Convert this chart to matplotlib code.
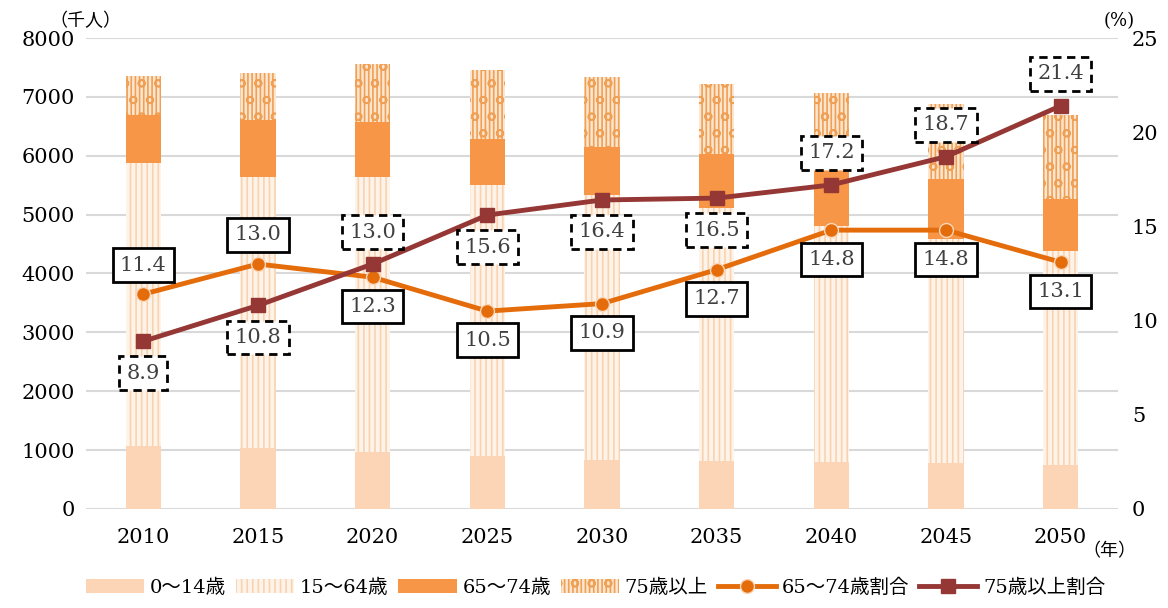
import matplotlib.pyplot as plt
import numpy as np

plt.rcParams['font.family'] = ['DejaVu Serif', 'Noto Sans CJK JP']
plt.rcParams['hatch.linewidth'] = 1.2

years = ['2010', '2015', '2020', '2025', '2030', '2035', '2040', '2045', '2050']
age0_14 = [1070, 1030, 970, 900, 830, 810, 800, 780, 750]
age15_64 = [4800, 4610, 4670, 4610, 4510, 4300, 4000, 3800, 3630]
age65_74 = [820, 960, 930, 780, 800, 920, 1045, 1020, 880]
age75 = [660, 800, 980, 1160, 1200, 1190, 1215, 1285, 1430]
ratio65_74 = [11.4, 13.0, 12.3, 10.5, 10.9, 12.7, 14.8, 14.8, 13.1]
ratio75 = [8.9, 10.8, 13.0, 15.6, 16.4, 16.5, 17.2, 18.7, 21.4]

# label above (+1) or below (-1) the point
pos65 = [1, 1, -1, -1, -1, -1, -1, -1, -1]
pos75 = [-1, -1, 1, -1, -1, -1, 1, 1, 1]

fig = plt.figure(figsize=(11.68, 6.08), dpi=100)
ax = fig.add_axes([0.0736, 0.163, 0.8836, 0.7745])
x = np.arange(len(years))
w = 0.31

b0 = np.array(age0_14)
b1 = b0 + np.array(age15_64)
b2 = b1 + np.array(age65_74)

h1 = ax.bar(x, age0_14, w, color='#FBD5B5', label='0～14歳', zorder=2)
h2 = ax.bar(x, age15_64, w, bottom=b0, color='#FEF3E8', edgecolor='#F9D2B0',
            hatch='|||', linewidth=0, label='15～64歳', zorder=2)
h3 = ax.bar(x, age65_74, w, bottom=b1, color='#F79646', label='65～74歳', zorder=2)
h4 = ax.bar(x, age75, w, bottom=b2, color='#FCE6D0', edgecolor='#F0A055',
            hatch='||||o', linewidth=0, label='75歳以上', zorder=2)

ax.set_ylim(0, 8000)
ax.set_yticks(range(0, 8001, 1000))
ax.set_xlim(-0.5, len(years) - 0.5)
ax.set_xticks(x)
ax.set_xticklabels(years)
ax.grid(axis='y', color='#D9D9D9', linewidth=1.5, zorder=0)
for s in ax.spines.values():
    s.set_visible(False)
ax.tick_params(length=0, labelsize=15, pad=8)
ax.tick_params(axis='x', pad=14)

ax2 = ax.twinx()
ax2.set_ylim(0, 25)
ax2.set_yticks(range(0, 26, 5))
for s in ax2.spines.values():
    s.set_visible(False)
ax2.tick_params(length=0, labelsize=15, pad=10)

l1, = ax2.plot(x, ratio65_74, color='#E46C0A', lw=3.5, marker='o', ms=10,
               mec='#FAD7BA', mew=1, label='65～74歳割合', zorder=4)
l2, = ax2.plot(x, ratio75, color='#953735', lw=3.5, marker='s', ms=10,
               label='75歳以上割合', zorder=5)

for xi, v, p in zip(x, ratio65_74, pos65):
    ax2.annotate(f'{v:.1f}', (xi, v), xytext=(0, 21 * p), textcoords='offset points',
                 ha='center', va='center', fontsize=15, color='#404040', zorder=6,
                 bbox=dict(boxstyle='square,pad=0.35', fc='white', ec='black', lw=2))
for xi, v, p in zip(x, ratio75, pos75):
    ax2.annotate(f'{v:.1f}', (xi, v), xytext=(0, 23 * p), textcoords='offset points',
                 ha='center', va='center', fontsize=15, color='#404040', zorder=6,
                 bbox=dict(boxstyle='square,pad=0.35', fc='white', ec='black', lw=2,
                           ls=(0, (3, 2))))

fig.text(0.073, 0.965, '（千人）', fontsize=13, ha='center', va='center')
fig.text(0.958, 0.965, '(%)', fontsize=13, ha='center', va='center')
fig.text(0.95, 0.093, '（年）', fontsize=13, ha='center', va='center')

fig.legend(handles=[h1, h2, h3, h4, l1, l2], loc='lower center',
           bbox_to_anchor=(0.51, -0.01), ncol=6, frameon=False, fontsize=14,
           handlelength=3.0, handletextpad=0.3, columnspacing=0.5)

fig.savefig('out.png', dpi=100)
